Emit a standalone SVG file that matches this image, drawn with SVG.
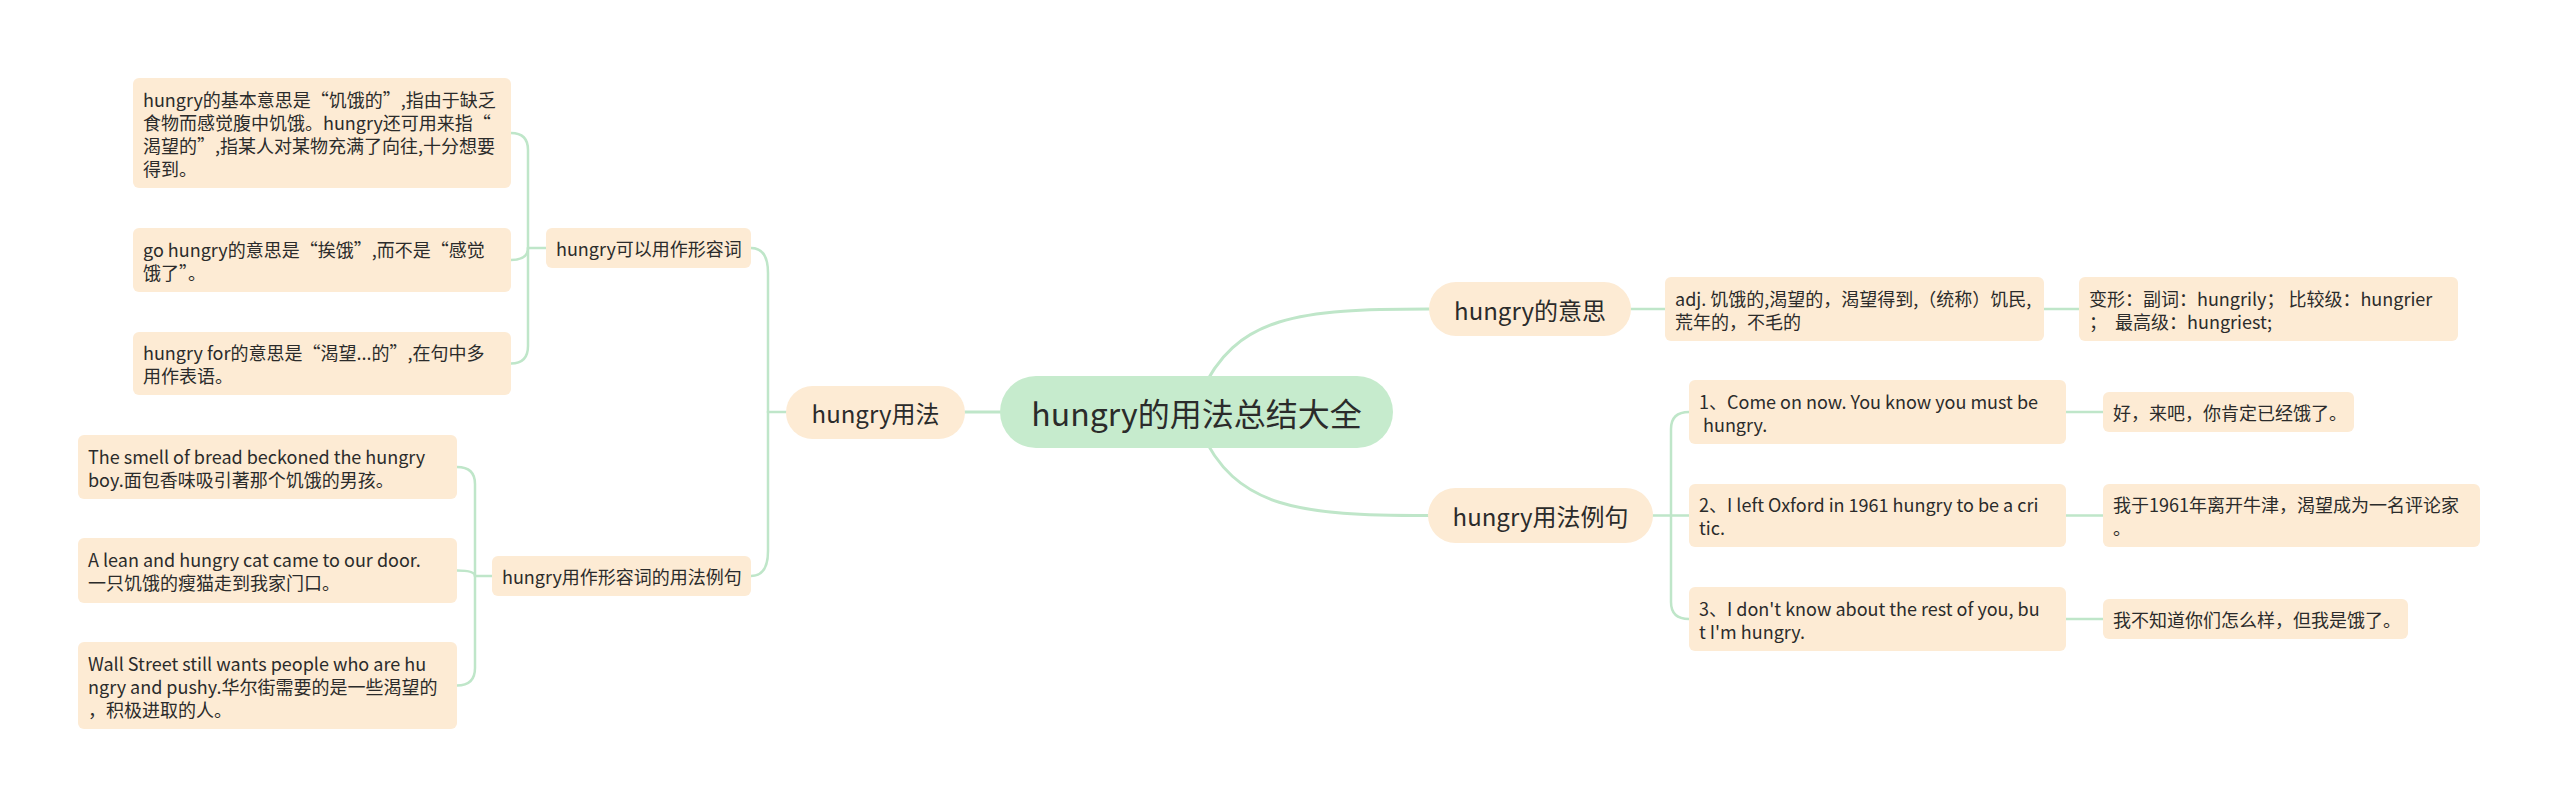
<svg xmlns="http://www.w3.org/2000/svg" width="2560" height="807" viewBox="0 0 2560 807">
<style>
text{font-family:"Noto Sans CJK SC","Microsoft YaHei","Liberation Sans",sans-serif;fill:#2b2b2b;dominant-baseline:central;white-space:pre}
.root rect{fill:#c6ebcd}
.root text{font-size:32px;text-anchor:middle}
.l1 rect{fill:#fdebd4}
.l1 text{font-size:24px;text-anchor:middle}
.box rect{fill:#fdebd4}
.box text{font-size:18px}
.c path{fill:none;stroke:#bfe6c9;stroke-width:2.5;stroke-linecap:round}
.c path.main{stroke-width:3}
</style>
<rect width="2560" height="807" fill="#ffffff"/>
<g id="connectors" class="c">
<path class="main" d="M965 412 L1000 412"/>
<path class="main" d="M1200 395 C1235 315 1300 309 1429 309"/>
<path class="main" d="M1200 429 C1235 509 1300 515.5 1428 515.5"/>
<path d="M786 412 L768 412"/>
<path d="M768 412 L768 273 Q768 248 751 248"/>
<path d="M768 412 L768 551 Q768 576 751 576"/>
<path d="M546 248 L528 248"/>
<path d="M528 248 L528 150 Q528 133 511 133"/>
<path d="M528 248 Q528 260 511 260"/>
<path d="M528 248 L528 346 Q528 363.5 511 363.5"/>
<path d="M492 576 L475 576"/>
<path d="M475 576 L475 484 Q475 467 457 467"/>
<path d="M475 576 Q475 570.5 457 570.5"/>
<path d="M475 576 L475 668 Q475 685.5 457 685.5"/>
<path d="M1631 309 L1665 309"/>
<path d="M2044 309 L2079 309"/>
<path d="M1653 515.5 L1671 515.5"/>
<path d="M1671 515.5 L1671 429 Q1671 412 1689 412"/>
<path d="M1671 515.5 L1689 515.5"/>
<path d="M1671 515.5 L1671 602 Q1671 619 1689 619"/>
<path d="M2066 412 L2103 412"/>
<path d="M2066 515.5 L2103 515.5"/>
<path d="M2066 619 L2103 619"/>
</g>
<g id="root" class="root"><rect x="1000" y="376" width="393" height="72" rx="36"/><text x="1196.5" y="412">hungry的用法总结大全</text></g>
<g id="n-usage" class="l1"><rect x="786" y="386" width="179" height="53" rx="26.5"/><text x="875.5" y="412.5">hungry用法</text></g>
<g id="n-meaning" class="l1"><rect x="1429" y="282" width="202" height="54" rx="27"/><text x="1530" y="309">hungry的意思</text></g>
<g id="n-examples" class="l1"><rect x="1428" y="488" width="225" height="55" rx="27.5"/><text x="1540.5" y="515.5">hungry用法例句</text></g>
<g id="n-adj" class="box"><rect x="546" y="228" width="205" height="40" rx="6"/><text x="556" y="248">hungry可以用作形容词</text></g>
<g id="n-adj-ex" class="box"><rect x="492" y="556" width="259" height="40" rx="6"/><text x="502" y="576">hungry用作形容词的用法例句</text></g>
<g id="n-b1" class="box"><rect x="133" y="78" width="378" height="110" rx="6"/><text x="143" y="98.5">hungry的基本意思是“饥饿的”,指由于缺乏</text><text x="143" y="121.5">食物而感觉腹中饥饿。hungry还可用来指“</text><text x="143" y="144.5">渴望的”,指某人对某物充满了向往,十分想要</text><text x="143" y="167.5">得到。</text></g>
<g id="n-b2" class="box"><rect x="133" y="228" width="378" height="64" rx="6"/><text x="143" y="248.5">go hungry的意思是“挨饿”,而不是“感觉</text><text x="143" y="271.5">饿了”。</text></g>
<g id="n-b3" class="box"><rect x="133" y="332" width="378" height="63" rx="6"/><text x="143" y="352">hungry for的意思是“渴望...的”,在句中多</text><text x="143" y="375">用作表语。</text></g>
<g id="n-a" class="box"><rect x="78" y="435" width="379" height="64" rx="6"/><text x="88" y="455.5">The smell of bread beckoned the hungry</text><text x="88" y="478.5">boy.面包香味吸引著那个饥饿的男孩。</text></g>
<g id="n-b" class="box"><rect x="78" y="538" width="379" height="65" rx="6"/><text x="88" y="559">A lean and hungry cat came to our door.</text><text x="88" y="582">一只饥饿的瘦猫走到我家门口。</text></g>
<g id="n-c" class="box"><rect x="78" y="642" width="379" height="87" rx="6"/><text x="88" y="662.5">Wall Street still wants people who are hu</text><text x="88" y="685.5">ngry and pushy.华尔街需要的是一些渴望的</text><text x="88" y="708.5">，积极进取的人。</text></g>
<g id="n-m1" class="box"><rect x="1665" y="277" width="379" height="64" rx="6"/><text x="1675" y="297.5">adj. 饥饿的,渴望的，渴望得到,（统称）饥民,</text><text x="1675" y="320.5">荒年的，不毛的</text></g>
<g id="n-m2" class="box"><rect x="2079" y="277" width="379" height="64" rx="6"/><text x="2089" y="297.5">变形：副词：hungrily； 比较级：hungrier</text><text x="2089" y="320.5">；  最高级：hungriest;</text></g>
<g id="n-e1" class="box"><rect x="1689" y="380" width="377" height="64" rx="6"/><text x="1699" y="400.5">1、Come on now. You know you must be</text><text x="1699" y="423.5"> hungry.</text></g>
<g id="n-e2" class="box"><rect x="1689" y="484" width="377" height="63" rx="6"/><text x="1699" y="504">2、I left Oxford in 1961 hungry to be a cri</text><text x="1699" y="527">tic.</text></g>
<g id="n-e3" class="box"><rect x="1689" y="587" width="377" height="64" rx="6"/><text x="1699" y="607.5">3、I don't know about the rest of you, bu</text><text x="1699" y="630.5">t I'm hungry.</text></g>
<g id="n-t1" class="box"><rect x="2103" y="392" width="251" height="40" rx="6"/><text x="2113" y="412">好，来吧，你肯定已经饿了。</text></g>
<g id="n-t2" class="box"><rect x="2103" y="484" width="377" height="63" rx="6"/><text x="2113" y="504">我于1961年离开牛津，渴望成为一名评论家</text><text x="2113" y="527">。</text></g>
<g id="n-t3" class="box"><rect x="2103" y="599" width="305" height="40" rx="6"/><text x="2113" y="619">我不知道你们怎么样，但我是饿了。</text></g>
</svg>
